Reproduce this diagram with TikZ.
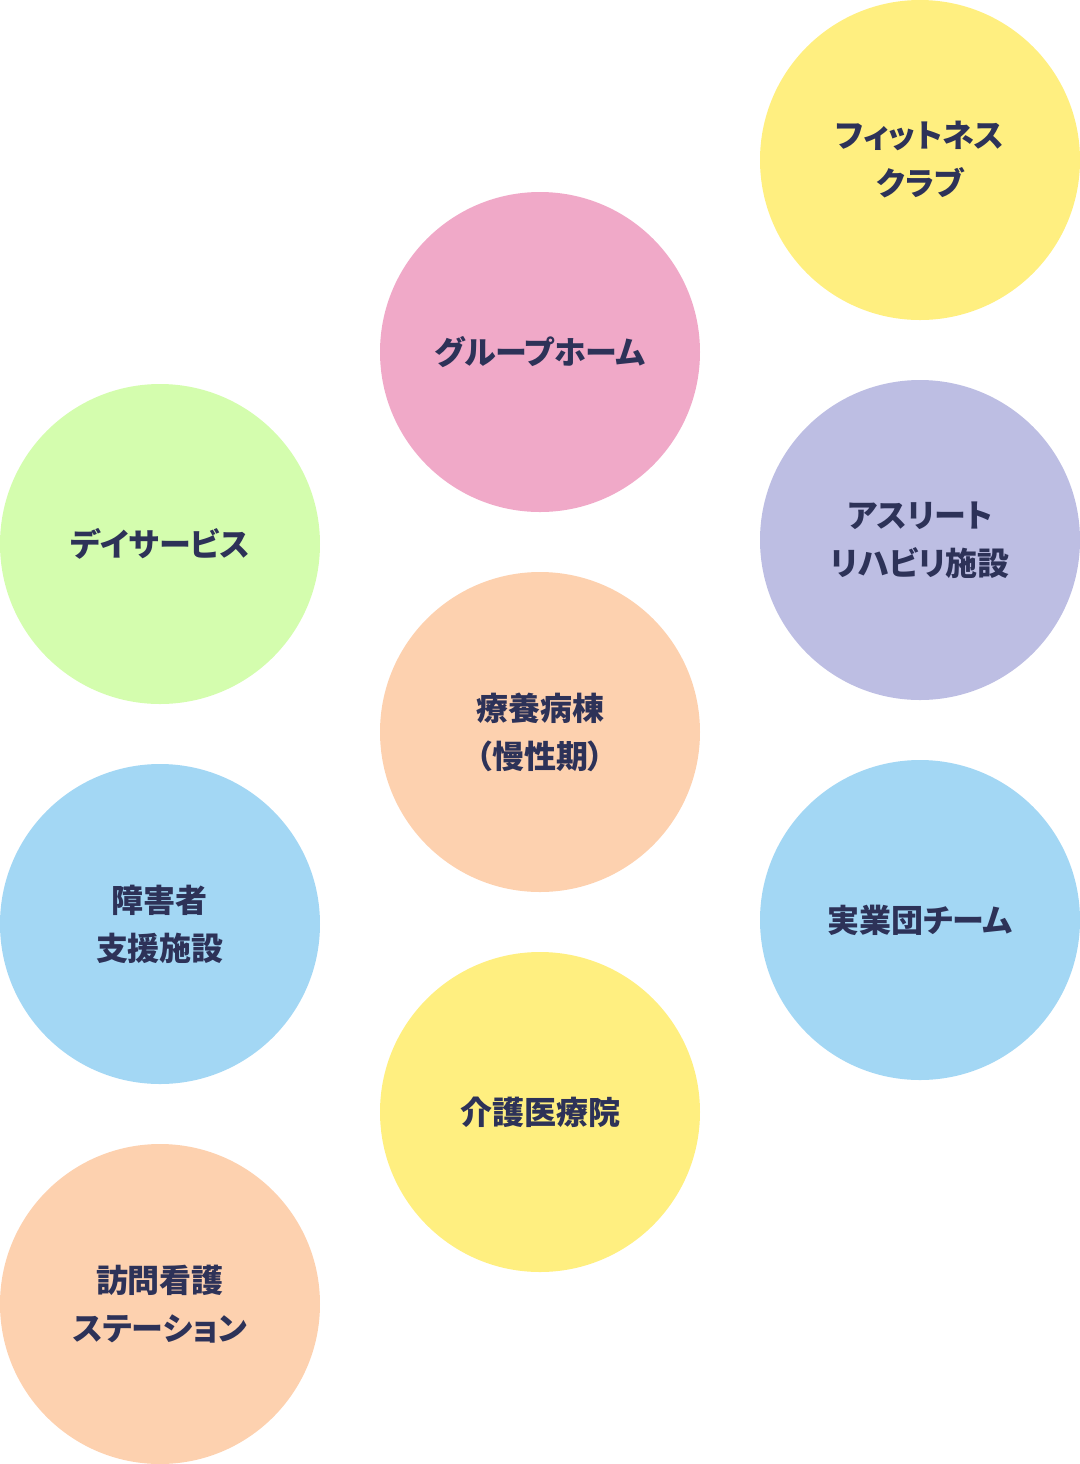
\documentclass[tikz,border=0pt]{standalone}
\usepackage{fontspec}
\usepackage{xcolor}
\usepackage{tikz}
\usetikzlibrary{calc, positioning}

\newfontfamily\jpfont[RawFeature=+palt]{Noto Sans CJK JP}

\definecolor{kiiro}{HTML}{FFEF80}
\definecolor{momo}{HTML}{F0A9C8}
\definecolor{midori}{HTML}{D4FDAE}
\definecolor{fuji}{HTML}{BDBEE3}
\definecolor{hada}{HTML}{FDD1AF}
\definecolor{mizu}{HTML}{A3D7F4}
\definecolor{moji}{HTML}{2D3258}

\begin{document}
\begin{tikzpicture}[x=0.5pt, y=-0.5pt,
    bubble/.style={circle, draw=none, minimum size=160pt, inner sep=0pt,
        align=center, text=moji, font=\jpfont\bfseries\fontsize{16pt}{24pt}\selectfont}]
    % Rahmen
    \useasboundingbox (0,0) rectangle (1080,1464);

    % rechte Spalte
    \node[bubble, fill=kiiro] (fitness) at (920,160) {フィットネス\\クラブ};
    \node[bubble, fill=fuji] (athlete) at (920,540) {アスリート\\リハビリ施設};
    \node[bubble, fill=mizu] (jitsugyodan) at (920,920) {実業団チーム};

    % mittlere Spalte
    \node[bubble, fill=momo] (grouphome) at (540,352) {グループホーム};
    \node[bubble, fill=hada] (ryoyo) at (540,732) {療養病棟\\（慢性期）};
    \node[bubble, fill=kiiro] (kaigo) at (540,1112) {介護医療院};

    % linke Spalte
    \node[bubble, fill=midori] (dayservice) at (160,544) {デイサービス};
    \node[bubble, fill=mizu] (shogai) at (160,924) {障害者\\支援施設};
    \node[bubble, fill=hada] (homon) at (160,1304) {訪問看護\\ステーション};
\end{tikzpicture}
\end{document}
